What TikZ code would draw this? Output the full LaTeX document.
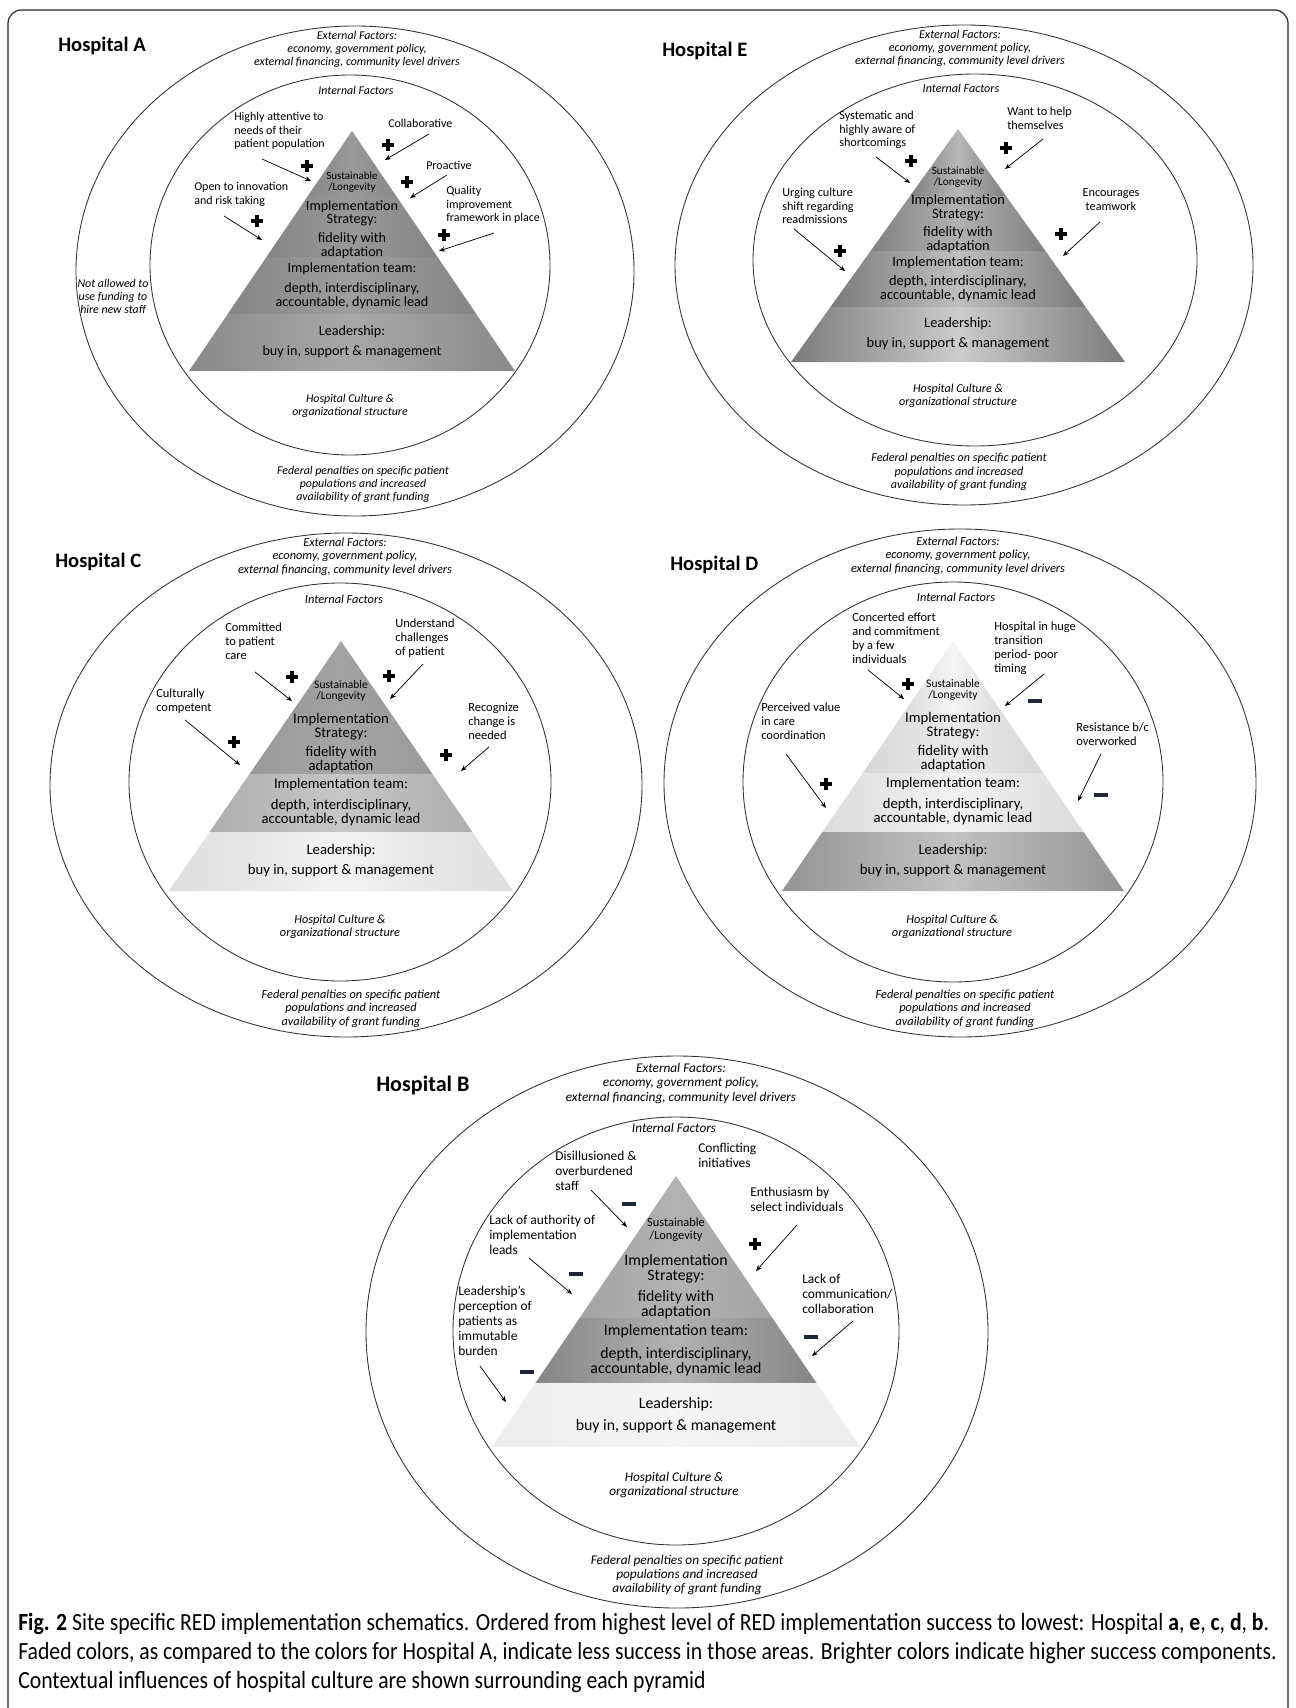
\documentclass[tikz,border=0pt]{standalone}
\usepackage{fontspec}
\setmainfont{Carlito}
\newfontfamily\capfont[FakeStretch=0.88]{Carlito}
\usetikzlibrary{arrows.meta,calc}
\definecolor{mcol}{HTML}{1E2638}
\def\pscale{1}
\tikzset{
 ringline/.style={draw=black!80, line width=0.65pt},
 arr/.style={-{Stealth[length=4.5pt,width=3.6pt]}, line width=0.55pt, black},
 ann/.style={inner sep=0pt, align=left, anchor=west, font={\fontsize{\fpeval{9*\pscale}}{\fpeval{10*\pscale}}\selectfont}},
 annc/.style={ann, align=center, anchor=center},
 ital/.style={inner sep=0pt, align=center, font={\itshape\fontsize{\fpeval{8.9*\pscale}}{\fpeval{9.7*\pscale}}\selectfont}},
 pyt/.style={inner sep=0pt, align=center, font={\fontsize{\fpeval{10.6*\pscale}}{\fpeval{10.2*\pscale}}\selectfont}},
 sus/.style={inner sep=0pt, align=center, font={\fontsize{\fpeval{8.3*\pscale}}{\fpeval{8.4*\pscale}}\selectfont}},
 ttl/.style={inner sep=0pt, anchor=west, font={\bfseries\fontsize{15.4}{16}\selectfont}},
 captxt/.style={inner sep=0pt, anchor=base west, font={\capfont\fontsize{18.5}{18.5}\selectfont}},
 pls/.style={inner sep=0pt, minimum size=9.5pt, path picture={
   \fill[black] ([xshift=-1.6pt]path picture bounding box.north) rectangle ([xshift=1.6pt]path picture bounding box.south);
   \fill[black] ([yshift=1.6pt]path picture bounding box.west) rectangle ([yshift=-1.6pt]path picture bounding box.east);}},
 mns/.style={inner sep=0pt, minimum width=10.5pt, minimum height=2.6pt, fill=mcol},
 hsh/.style 2 args={left color=#1, right color=#1, middle color=#2},
 lyrA1/.style={hsh={black!46}{black!40}}, lyrA2/.style={hsh={black!48}{black!40}},
 lyrA3/.style={hsh={black!48}{black!38}}, lyrA4/.style={hsh={black!46}{black!34}},
 lyrE1/.style={hsh={black!50}{black!28}}, lyrE2/.style={hsh={black!50}{black!30}},
 lyrE3/.style={hsh={black!52}{black!25}}, lyrE4/.style={hsh={black!52}{black!20}},
 lyrC1/.style={hsh={black!40}{black!36}}, lyrC2/.style={hsh={black!40}{black!35}},
 lyrC3/.style={hsh={black!32}{black!22}}, lyrC4/.style={hsh={black!13}{black!5}},
 lyrD1/.style={hsh={black!14}{black!4}},  lyrD2/.style={hsh={black!16}{black!8}},
 lyrD3/.style={hsh={black!14}{black!5}},  lyrD4/.style={hsh={black!42}{black!24}},
 lyrB1/.style={hsh={black!34}{black!30}}, lyrB2/.style={hsh={black!36}{black!30}},
 lyrB3/.style={hsh={black!48}{black!30}}, lyrB4/.style={hsh={black!7}{black!4}},
}
\newcommand\arw[3]{\coordinate (#1s) at (#2); \coordinate (#1e) at (#3); \draw[arr] (#1s) -- (#1e);}
\newcommand\pyr[8]{%
 \coordinate (#1ap) at (#2,#3);
 \coordinate (#1bl) at ({#2-#5},#4);
 \coordinate (#1br) at ({#2+#5},#4);
 \shade[lyr#11] (#1ap) -- ($(#1ap)!#6!(#1br)$) -- ($(#1ap)!#6!(#1bl)$) -- cycle;
 \shade[lyr#12] ($(#1ap)!#6!(#1bl)$) -- ($(#1ap)!#6!(#1br)$) -- ($(#1ap)!#7!(#1br)$) -- ($(#1ap)!#7!(#1bl)$) -- cycle;
 \shade[lyr#13] ($(#1ap)!#7!(#1bl)$) -- ($(#1ap)!#7!(#1br)$) -- ($(#1ap)!#8!(#1br)$) -- ($(#1ap)!#8!(#1bl)$) -- cycle;
 \shade[lyr#14] ($(#1ap)!#8!(#1bl)$) -- ($(#1ap)!#8!(#1br)$) -- (#1br) -- (#1bl) -- cycle;
}
\begin{document}
\begin{tikzpicture}[x=0.75pt,y=-0.75pt]
\useasboundingbox (0,0) rectangle (1295,1708);
\fill[white] (0,0) rectangle (1295,1708);
\draw[line width=0.9pt, black!85, rounded corners=10pt] (8,1720) -- (8,10) -- (1288,10) -- (1288,1720);

%================ Hospital A
\begin{scope}
\def\pscale{1}
\draw[ringline] (355,271) ellipse [x radius=279, y radius=245];
\draw[ringline] (350,265) ellipse [x radius=200, y radius=190];
\pyr{A}{352}{131}{371}{163}{0.271}{0.525}{0.7625}
\node[ttl] (A-t) at (58,46) {Hospital A};
\node[ital] (A-ext) at (357,49.5) {External Factors:\\economy, government policy,\\external financing, community level drivers};
\node[ital] (A-int) at (356,90) {Internal Factors};
\node[ital] (A-cul) at (350,405.5) {Hospital Culture \&\\organizational structure};
\node[ital] (A-fed) at (363,484) {Federal penalties on specific patient\\populations and increased\\availability of grant funding};
\node[ital] (A-na) at (113,296) {Not allowed to\\use funding to\\hire new staff};
\node[sus] (A-s) at (352,182.5) {Sustainable\\/Longevity};
\node[pyt] (A-is) at (352,213.5) {Implementation\\Strategy:};
\node[pyt] (A-fa) at (352,245.5) {fidelity with\\adaptation};
\node[pyt] (A-it) at (352,269) {Implementation team:};
\node[pyt] (A-dp) at (352,296) {depth, interdisciplinary,\\accountable, dynamic lead};
\node[pyt] (A-ld) at (352,332) {Leadership:};
\node[pyt] (A-bi) at (352,352) {buy in, support \& management};
\node[ann] (A-a1) at (234,131) {Highly attentive to\\needs of their\\patient population};
\node[pls] (A-p1) at (307,166) {};
\arw{A-r1}{262,159}{311,181}
\node[ann] (A-a2) at (388,123) {Collaborative};
\node[pls] (A-p2) at (388,145) {};
\arw{A-r2}{429,134}{385,160}
\node[ann] (A-a3) at (426,165) {Proactive};
\node[pls] (A-p3) at (407,182) {};
\arw{A-r3}{447,175}{410,198}
\node[ann] (A-a4) at (446,205) {Quality\\improvement\\framework in place};
\node[pls] (A-p4) at (444,235) {};
\arw{A-r4}{494,233}{439,251}
\node[ann] (A-a5) at (194,194.5) {Open to innovation\\and risk taking};
\node[pls] (A-p5) at (257,221) {};
\arw{A-r5}{224,216}{262,240}
\end{scope}

%================ Hospital E
\begin{scope}
\def\pscale{1.02}
\draw[ringline] (964,265) ellipse [x radius=289, y radius=240];
\draw[ringline] (975,260) ellipse [x radius=222, y radius=186];
\pyr{E}{958}{129}{362}{167}{0.288}{0.524}{0.764}
\node[ttl] (E-t) at (662,51) {Hospital E};
\node[ital] (E-ext) at (960,48.5) {External Factors:\\economy, government policy,\\external financing, community level drivers};
\node[ital] (E-int) at (961,88) {Internal Factors};
\node[ital] (E-cul) at (958,395.5) {Hospital Culture \&\\organizational structure};
\node[ital] (E-fed) at (959,472) {Federal penalties on specific patient\\populations and increased\\availability of grant funding};
\node[sus] (E-s) at (958,177) {Sustainable\\/Longevity};
\node[pyt] (E-is) at (958,208) {Implementation\\Strategy:};
\node[pyt] (E-fa) at (958,239.5) {fidelity with\\adaptation};
\node[pyt] (E-it) at (958,263) {Implementation team:};
\node[pyt] (E-dp) at (958,289) {depth, interdisciplinary,\\accountable, dynamic lead};
\node[pyt] (E-ld) at (958,324) {Leadership:};
\node[pyt] (E-bi) at (958,344) {buy in, support \& management};
\node[ann] (E-a1) at (839,130) {Systematic and\\highly aware of\\shortcomings};
\node[pls] (E-p1) at (911,161) {};
\arw{E-r1}{876,157}{910,183}
\node[ann] (E-a2) at (1007,118.5) {Want to help\\themselves};
\node[pls] (E-p2) at (1006,148) {};
\arw{E-r2}{1043,139}{1005,169}
\node[ann] (E-a3) at (782,206) {Urging culture\\shift regarding\\readmissions};
\node[pls] (E-p3) at (840,251) {};
\arw{E-r3}{794,229}{845,271}
\node[annc] (E-a4) at (1111,199.5) {Encourages\\teamwork};
\node[pls] (E-p4) at (1061,234) {};
\arw{E-r4}{1100,222}{1063,256}
\end{scope}

%================ Hospital C
\begin{scope}
\def\pscale{1.04}
\draw[ringline] (346,785) ellipse [x radius=296, y radius=252];
\draw[ringline] (340,782) ellipse [x radius=211, y radius=199];
\pyr{C}{341}{641}{891}{172}{0.292}{0.532}{0.764}
\node[ttl] (C-t) at (55,562) {Hospital C};
\node[ital] (C-ext) at (345,556.5) {External Factors:\\economy, government policy,\\external financing, community level drivers};
\node[ital] (C-int) at (344,599) {Internal Factors};
\node[ital] (C-cul) at (340,927) {Hospital Culture \&\\organizational structure};
\node[ital] (C-fed) at (351,1008.5) {Federal penalties on specific patient\\populations and increased\\availability of grant funding};
\node[sus] (C-s) at (341,691) {Sustainable\\/Longevity};
\node[pyt] (C-is) at (341,727) {Implementation\\Strategy:};
\node[pyt] (C-fa) at (341,760) {fidelity with\\adaptation};
\node[pyt] (C-it) at (341,785) {Implementation team:};
\node[pyt] (C-dp) at (341,813) {depth, interdisciplinary,\\accountable, dynamic lead};
\node[pyt] (C-ld) at (341,851) {Leadership:};
\node[pyt] (C-bi) at (341,871) {buy in, support \& management};
\node[ann] (C-a1) at (225,641) {Committed\\to patient\\care};
\node[pls] (C-p1) at (292,677) {};
\arw{C-r1}{255,672}{292,701}
\node[ann] (C-a2) at (395,638) {Understand\\challenges\\of patient};
\node[pls] (C-p2) at (389,676) {};
\arw{C-r2}{423,664}{390,699}
\node[ann] (C-a3) at (156,701.5) {Culturally\\competent};
\node[pls] (C-p3) at (234,742) {};
\arw{C-r3}{185,720}{240,765}
\node[ann] (C-a4) at (468,721) {Recognize\\change is\\needed};
\node[pls] (C-p4) at (446,755) {};
\arw{C-r4}{489,747}{461,771}
\end{scope}

%================ Hospital D
\begin{scope}
\def\pscale{1.04}
\draw[ringline] (960,783) ellipse [x radius=296, y radius=254];
\draw[ringline] (953,782) ellipse [x radius=210, y radius=200];
\pyr{D}{953}{641}{891}{171}{0.288}{0.528}{0.764}
\node[ttl] (D-t) at (670,565) {Hospital D};
\node[ital] (D-ext) at (958,555.5) {External Factors:\\economy, government policy,\\external financing, community level drivers};
\node[ital] (D-int) at (956,597) {Internal Factors};
\node[ital] (D-cul) at (952,926.5) {Hospital Culture \&\\organizational structure};
\node[ital] (D-fed) at (965,1008.5) {Federal penalties on specific patient\\populations and increased\\availability of grant funding};
\node[sus] (D-s) at (953,690) {Sustainable\\/Longevity};
\node[pyt] (D-is) at (953,726) {Implementation\\Strategy:};
\node[pyt] (D-fa) at (953,759) {fidelity with\\adaptation};
\node[pyt] (D-it) at (953,784) {Implementation team:};
\node[pyt] (D-dp) at (953,812) {depth, interdisciplinary,\\accountable, dynamic lead};
\node[pyt] (D-ld) at (953,851) {Leadership:};
\node[pyt] (D-bi) at (953,871) {buy in, support \& management};
\node[ann] (D-a1) at (852,638) {Concerted effort\\and commitment\\by a few\\individuals};
\node[pls] (D-p1) at (908,684) {};
\arw{D-r1}{868,670}{904,699}
\node[ann] (D-a2) at (994,648) {Hospital in huge\\transition\\period- poor\\timing};
\node[mns] (D-m2) at (1035,701) {};
\arw{D-r2}{1044,674}{1005,706}
\node[ann] (D-a3) at (761,721) {Perceived value\\in care\\coordination};
\node[pls] (D-p3) at (826,784) {};
\arw{D-r3}{786,754}{826,808}
\node[ann] (D-a4) at (1076,734) {Resistance b/c\\overworked};
\node[mns] (D-m4) at (1101,795) {};
\arw{D-r4}{1101,754}{1078,801}
\end{scope}

%================ Hospital B
\begin{scope}
\def\pscale{1.12}
\draw[ringline] (677,1332) ellipse [x radius=311, y radius=276];
\draw[ringline] (676,1331) ellipse [x radius=223, y radius=214];
\pyr{B}{676}{1176}{1447}{184}{0.288}{0.524}{0.764}
\node[ttl, font={\bfseries\fontsize{16.6}{17}\selectfont}] (B-t) at (376,1085) {Hospital B};
\node[ital] (B-ext) at (681,1083.5) {External Factors:\\economy, government policy,\\external financing, community level drivers};
\node[ital] (B-int) at (674,1128) {Internal Factors};
\node[ital] (B-cul) at (674,1485) {Hospital Culture \&\\organizational structure};
\node[ital] (B-fed) at (687,1575) {Federal penalties on specific patient\\populations and increased\\availability of grant funding};
\node[sus] (B-s) at (676,1229.5) {Sustainable\\/Longevity};
\node[pyt] (B-is) at (676,1268.5) {Implementation\\Strategy:};
\node[pyt] (B-fa) at (676,1304.5) {fidelity with\\adaptation};
\node[pyt] (B-it) at (676,1331) {Implementation team:};
\node[pyt] (B-dp) at (676,1362) {depth, interdisciplinary,\\accountable, dynamic lead};
\node[pyt] (B-ld) at (676,1404) {Leadership:};
\node[pyt] (B-bi) at (676,1426) {buy in, support \& management};
\node[ann] (B-a1) at (555,1171) {Disillusioned \&\\overburdened\\staff};
\node[mns] (B-m1) at (629,1204) {};
\arw{B-r1}{591,1190}{627,1227}
\node[ann] (B-a2) at (698,1155.5) {Conflicting\\initiatives};
\node[ann] (B-a3) at (750,1199.5) {Enthusiasm by\\select individuals};
\node[pls] (B-p3) at (755,1244) {};
\arw{B-r3}{797,1225}{756,1271}
\node[ann] (B-a4) at (489,1235) {Lack of authority of\\implementation\\leads};
\node[mns] (B-m4) at (576,1274) {};
\arw{B-r4}{529,1258}{572,1294}
\node[ann] (B-a5) at (458,1321) {Leadership’s\\perception of\\patients as\\immutable\\burden};
\node[mns] (B-m5) at (527,1372) {};
\arw{B-r5}{480,1366}{506,1402}
\node[ann] (B-a6) at (802,1294) {Lack of\\communication/\\collaboration};
\node[mns] (B-m6) at (811,1337) {};
\arw{B-r6}{853,1321}{812,1356}
\end{scope}

%================ Caption
\node[captxt] (cap1) at (18,1630) {\textbf{Fig. 2} Site specific RED implementation schematics. Ordered from highest level of RED implementation success to lowest: Hospital \textbf{a}, \textbf{e}, \textbf{c}, \textbf{d}, \textbf{b}.};
\node[captxt] (cap2) at (18,1659) {Faded colors, as compared to the colors for Hospital A, indicate less success in those areas. Brighter colors indicate higher success components.};
\node[captxt] (cap3) at (18,1688) {Contextual influences of hospital culture are shown surrounding each pyramid};
\end{tikzpicture}
\end{document}
